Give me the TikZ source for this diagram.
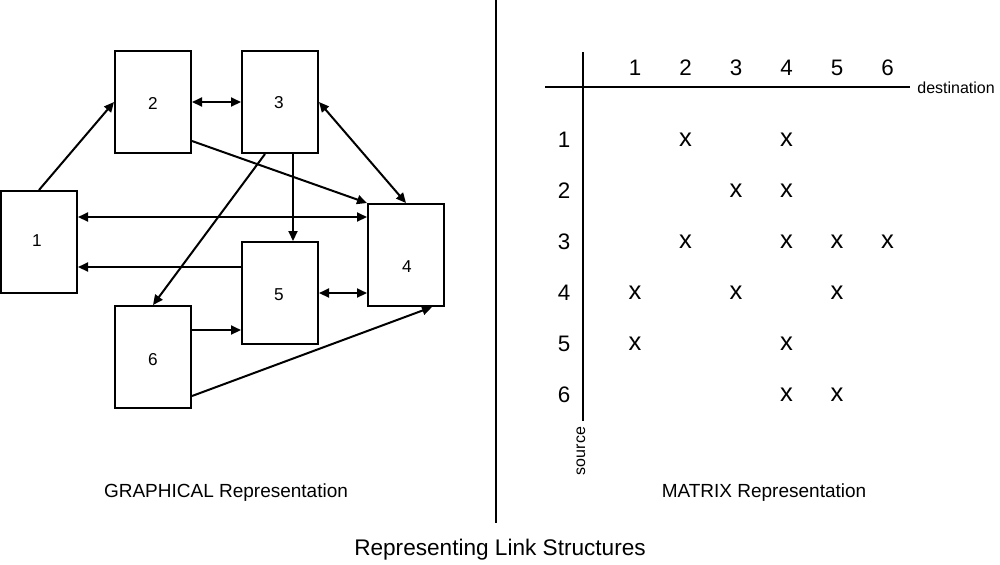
\documentclass[tikz,border=0pt]{standalone}
\usepackage{fontspec}
\setmainfont{Liberation Sans}
\usetikzlibrary{calc,arrows.meta}
\begin{document}
\begin{tikzpicture}[x=0.5pt,y=-0.5pt,
  box/.style={draw,line width=1pt,minimum width=38pt,minimum height=51pt,inner sep=0pt},
  boxlabel/.style={font=\fontsize{8.6}{9}\selectfont,inner sep=0pt},
  link/.style={line width=1pt,-{Triangle[length=5pt,width=4.5pt]}},
  dlink/.style={line width=1pt,{Triangle[length=5pt,width=4.5pt]}-{Triangle[length=5pt,width=4.5pt]}},
  axis/.style={line width=1pt},
  hdr/.style={font=\fontsize{11.2}{12}\selectfont,inner sep=0pt},
  xmark/.style={font=\fontsize{12.8}{13}\selectfont,inner sep=0pt},
  small/.style={font=\fontsize{8}{9}\selectfont,inner sep=0pt},
  caption/.style={font=\fontsize{9.5}{10}\selectfont,inner sep=0pt},
  title/.style={font=\fontsize{11.3}{12}\selectfont,inner sep=0pt}]
\useasboundingbox (0,0) rectangle (1000,564);
% boxes
\node[box] (b1) at (39,242) {};
\node[box] (b2) at (153,102) {};
\node[box] (b3) at (280,102) {};
\node[box] (b4) at (406,255) {};
\node[box] (b5) at (280,293) {};
\node[box] (b6) at (153,357) {};
\node[boxlabel] (l1) at (37,241) {1};
\node[boxlabel] (l2) at (153,103) {2};
\node[boxlabel] (l3) at (279,103) {3};
\node[boxlabel] (l4) at (407,267) {4};
\node[boxlabel] (l5) at (279,295) {5};
\node[boxlabel] (l6) at (153,360) {6};
% connectors
\draw[link] (b1.north) -- (b2.west);
\draw[dlink] (b2.east) -- (b3.west);
\draw[link] ($(b2.south east)+(0,-13)$) -- (b4.north west);
\draw[dlink] (b3.east) -- (b4.north);
\draw[link] ($(b3.south)+(13,0)$) -- ($(b5.north)+(13,0)$);
\draw[link] ($(b3.south)+(-15,0)$) -- (b6.north);
\coordinate (p14) at ($(b1.north east)+(0,27)$);
\draw[dlink] (p14) -- (p14 -| b4.west);
\coordinate (p51) at ($(b5.north west)+(0,26)$);
\draw[link] (p51) -- (p51 -| b1.east);
\draw[dlink] (b5.east) -- (b5.east -| b4.west);
\coordinate (p65) at ($(b6.north east)+(0,25)$);
\draw[link] (p65) -- (p65 -| b5.west);
\draw[link] ($(b6.south east)+(0,-13)$) -- ($(b4.south)+(26,0)$);
% divider
\coordinate (dt) at (496,0);
\coordinate (db) at (496,523);
\draw[axis] (dt) -- (db);
% matrix axes
\coordinate (vt) at (583,52);
\coordinate (vb) at (583,421);
\coordinate (hl) at (545,87);
\coordinate (hr) at (910,87);
\draw[axis] (vt) -- (vb);
\draw[axis] (hl) -- (hr);
\node[small,anchor=west] (dest) at (917,88) {destination};
\node[small,rotate=90] (src) at (581,451) {source};
% headers
\foreach \i/\x in {1/635,2/685.5,3/736,4/786.5,5/837,6/887.5}
  \node[hdr] (c\i) at (\x,68) {\i};
\foreach \i/\y in {1/140,2/191,3/242,4/293,5/344,6/395}
  \node[hdr] (r\i) at (564,\y) {\i};
% marks
\foreach \r/\c in {1/2,1/4,2/3,2/4,3/2,3/4,3/5,3/6,4/1,4/3,4/5,5/1,5/4,6/4,6/5}
  \node[xmark] (m\r\c) at (c\c |- r\r) {x};
% captions
\node[caption] (cg) at (226,493) {GRAPHICAL Representation};
\node[caption] (cm) at (764,493) {MATRIX Representation};
\node[title] (tt) at (500,550) {Representing Link Structures};
\end{tikzpicture}
\end{document}
